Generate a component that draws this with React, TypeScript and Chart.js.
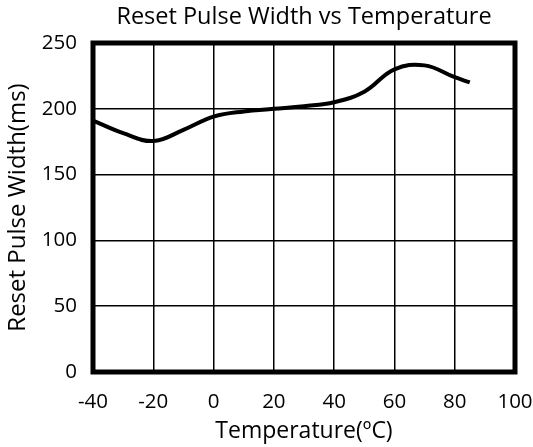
import React, { useEffect, useRef } from "react";
import { Chart, registerables } from "chart.js";

Chart.register(...registerables);

const temperatures = [-40, -30, -20, -10, 0, 10, 20, 30, 40, 50, 60, 70, 80, 85];
const pulseWidth = [191, 181.5, 175.5, 184, 194, 198, 200, 202, 205, 213, 230, 233, 224, 220];
const xTicks = [-40, -20, 0, 20, 40, 60, 80, 100];
const yTicks = [0, 50, 100, 150, 200, 250];

const FONT = "'Open Sans', 'Noto Sans', sans-serif";

const frame = {
  id: "frame",
  afterDraw(chart: any) {
    const { ctx, chartArea } = chart;
    ctx.save();
    ctx.strokeStyle = "#000";
    ctx.lineWidth = 5;
    ctx.strokeRect(chartArea.left, chartArea.top, chartArea.right - chartArea.left, chartArea.bottom - chartArea.top);
    ctx.restore();
  },
};

export default function App() {
  const ref = useRef<HTMLCanvasElement>(null);
  useEffect(() => {
    if (!ref.current) return;
    const chart = new Chart(ref.current, {
      type: "line",
      data: {
        datasets: [
          {
            data: temperatures.map((t, i) => ({ x: t, y: pulseWidth[i] })),
            borderColor: "#000",
            borderWidth: 4,
            pointRadius: 0,
            tension: 0.4,
            fill: false,
          },
        ],
      },
      options: {
        animation: false,
        responsive: false,
        layout: { padding: { left: 4, right: 18, top: 0, bottom: 0 } },
        plugins: {
          legend: { display: false },
          tooltip: { enabled: false },
          title: {
            display: true,
            fullSize: false,
            text: "Reset Pulse Width vs Temperature",
            color: "#000",
            font: { family: FONT, size: 23.5, weight: "normal" },
            padding: { top: 3, bottom: 11.8 },
          },
        },
        scales: {
          x: {
            type: "linear",
            min: -40,
            max: 100,
            afterBuildTicks: (s: any) => {
              s.ticks = xTicks.map((v) => ({ value: v }));
            },
            afterFit: (s: any) => {
              s.height = 75;
              s.paddingLeft = 0;
              s.paddingRight = 0;
            },
            grid: { color: "#000", lineWidth: 1.5, drawTicks: false },
            border: { display: false },
            ticks: { color: "#000", font: { family: FONT, size: 20.5 }, padding: 18 },
            title: {
              display: true,
              text: "Temperature(ºC)",
              color: "#000",
              font: { family: FONT, size: 23 },
              padding: { top: 4, bottom: 2 },
            },
          },
          y: {
            min: 0,
            max: 250,
            afterBuildTicks: (s: any) => {
              s.ticks = yTicks.map((v) => ({ value: v }));
            },
            afterFit: (s: any) => {
              s.width = 89;
            },
            grid: { color: "#000", lineWidth: 1.5, drawTicks: false },
            border: { display: false },
            ticks: { color: "#000", font: { family: FONT, size: 20.5 }, padding: 16 },
            title: {
              display: true,
              text: "Reset Pulse Width(ms)",
              color: "#000",
              font: { family: FONT, size: 24 },
              padding: { top: 0, bottom: 3 },
            },
          },
        },
      },
      plugins: [frame],
    });
    return () => chart.destroy();
  }, []);
  return (
    <div style={{ position: "fixed", left: 0, top: 0, width: 533, height: 447, background: "#fff" }}>
      <canvas ref={ref} width={533} height={447} />
    </div>
  );
}
